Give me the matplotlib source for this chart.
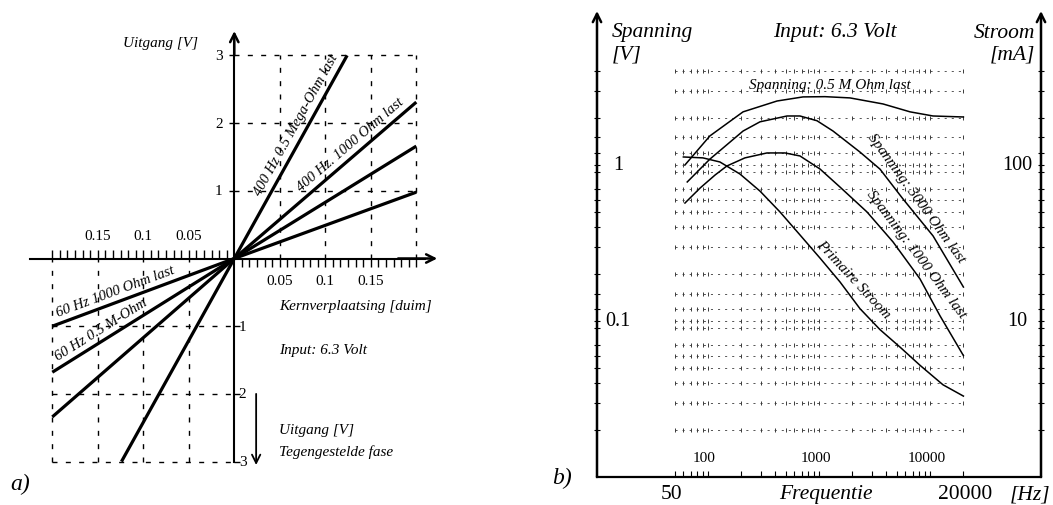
import numpy as np
import matplotlib
matplotlib.use('Agg')
import matplotlib.pyplot as plt

plt.rcParams['font.family'] = ['Liberation Serif', 'DejaVu Serif']

W, H = 1053, 506

# ---------------- panel a data ----------------
disp_tick_labels = [0.05, 0.1, 0.15]
disp_grid = [0.05, 0.1, 0.15, 0.2]
volt_grid = [1, 2, 3]
end_x_400 = [0.124, 0.2, 0.2, 0.2]
end_y_400 = [3.0, 2.31, 1.66, 0.98]
end_x_60 = [-0.2, -0.2, -0.2, -0.124]
end_y_60 = [-1.0, -1.68, -2.34, -3.0]

# ---------------- panel b data ----------------
freq_A = [62, 104, 207, 419, 718, 1132, 1901, 3776, 6610, 10650, 20000]
volt_A = [1.0, 1.535, 2.19, 2.57, 2.73, 2.74, 2.69, 2.46, 2.19, 2.06, 2.03]
freq_B = [65, 104, 207, 294, 515, 674, 960, 1337, 2338, 3545, 5715, 10650, 20000]
volt_B = [0.778, 1.09, 1.65, 1.89, 2.06, 2.06, 1.92, 1.65, 1.21, 0.94, 0.605, 0.351, 0.165]
freq_C = [62, 85, 116, 148, 215, 340, 494, 674, 1021, 1545, 2704, 4645, 8128, 12300, 20000]
volt_C = [0.57, 0.712, 0.863, 0.985, 1.11, 1.194, 1.194, 1.142, 0.942, 0.722, 0.50, 0.321,
          0.186, 0.108, 0.060]
freq_D = [60, 90, 128, 194, 294, 445, 674, 1021, 1545, 2338, 3545, 5370, 8128, 13090, 20000]
volt_D = [1.125, 1.11, 1.045, 0.875, 0.68, 0.50, 0.356, 0.253, 0.178, 0.12, 0.088, 0.068,
          0.052, 0.039, 0.033]
grid_freqs = [50, 60, 70, 80, 90, 100, 200, 300, 400, 500, 600, 700, 800, 900,
              1000, 2000, 3000, 4000, 5000, 6000, 7000, 8000, 9000, 10000, 20000]
grid_volts = [0.02, 0.03, 0.04, 0.05, 0.06, 0.07, 0.09, 0.1, 0.12, 0.15, 0.2,
              0.3, 0.4, 0.5, 0.6, 0.7, 0.9, 1, 1.2, 1.5, 2, 3, 4]

fig = plt.figure(figsize=(W / 100, H / 100), dpi=100)

def fx(px):
    return px / W

def fy(py):
    return 1 - py / H

# ================= panel a =================
ox, oy, sx, sy = 234.3, 259.5, 910.0, 67.7
L, R = 0, 525
ax1 = fig.add_axes([fx(L), 0, fx(R) - fx(L), 1])
ax1.set_xlim((L - ox) / sx, (R - ox) / sx)
ax1.set_ylim((oy - H) / sy, oy / sy)
ax1.axis('off')

dash = dict(color='black', lw=1.0, dashes=(3.6, 6.0))
for g in disp_grid:
    ax1.plot([g, g], [0, 3], **dash)
    ax1.plot([-g, -g], [-3, 0], **dash)
for v in volt_grid:
    ax1.plot([0, 0.2], [v, v], **dash)
    ax1.plot([-0.2, 0], [-v, -v], **dash)

arrow_kw = dict(arrowstyle='->', lw=1.8, mutation_scale=15, shrinkA=0, shrinkB=0)
ax1.plot([0, 0], [-3, 3.2], color='black', lw=1.5)
ax1.annotate('', xy=(0, 3.36), xytext=(0, 3.0), arrowprops=arrow_kw)
ax1.plot([-0.225, 0.21], [0, 0], color='black', lw=1.5)
ax1.annotate('', xy=(0.223, 0), xytext=(0.18, 0), arrowprops=arrow_kw)
ax1.annotate('', xy=(0.024, -3.05), xytext=(0.024, -2.0),
             arrowprops=dict(arrowstyle='->', lw=1.3, mutation_scale=15, shrinkA=0, shrinkB=0))

tick_step = 0.2 / 24
tks = np.arange(1, 25) * tick_step
ax1.vlines(tks, -0.13, 0, color='black', lw=1.0)
ax1.vlines(-tks, 0, 0.13, color='black', lw=1.0)
ax1.hlines(volt_grid, -0.006, 0, color='black', lw=1.0)
ax1.hlines([-v for v in volt_grid], 0, 0.006, color='black', lw=1.0)

for ex, ey in zip(end_x_400, end_y_400):
    ax1.plot([0, ex], [0, ey], color='black', lw=2.3, solid_capstyle='butt')
for ex, ey in zip(end_x_60, end_y_60):
    ax1.plot([0, ex], [0, ey], color='black', lw=2.3, solid_capstyle='butt')

fs = 11
for t in disp_tick_labels:
    ax1.text(t, -0.33, f'{t:g}', ha='center', va='center', fontsize=fs)
    ax1.text(-t, 0.337, f'{t:g}', ha='center', va='center', fontsize=fs)
for v in volt_grid:
    ax1.text(-0.0127, v, str(v), ha='right', va='center', fontsize=fs)
    ax1.text(0.005, -v, str(v), ha='left', va='center', fontsize=fs)

it = dict(style='italic', fontsize=fs)
ax1.text(-0.0396, 3.19, 'Uitgang [V]', ha='right', va='center', **it)
ax1.text(0.049, -0.70, 'Kernverplaatsing [duim]', ha='left', va='center', **it)
ax1.text(0.049, -1.34, 'Input: 6.3 Volt', ha='left', va='center', **it)
ax1.text(0.049, -2.52, 'Uitgang [V]', ha='left', va='center', **it)
ax1.text(0.049, -2.84, 'Tegengestelde fase', ha='left', va='center', **it)
ax1.text(-0.246, -3.33, 'a)', ha='left', va='center', style='italic', fontsize=17)


def line_label(ex, ey, t, text, off_px=11.0):
    dx, dy = ex * sx, ey * sy
    n = np.hypot(dx, dy)
    ux, uy = dx / n, dy / n
    if ux < 0:
        ux, uy = -ux, -uy
    ang = np.degrees(np.arctan2(uy, ux))
    nx, ny = -uy, ux
    ax1.annotate(text, xy=(t * ex, t * ey), xytext=(nx * off_px * 0.72, ny * off_px * 0.72),
                 textcoords='offset points', rotation=ang, rotation_mode='anchor',
                 ha='center', va='center', style='italic', fontsize=10.5)


line_label(end_x_400[0], end_y_400[0], 0.635, '400 Hz 0.5 Mega-Ohm last')
line_label(end_x_400[1], end_y_400[1], 0.677, '400 Hz. 1000 Ohm last')
line_label(end_x_60[0], end_y_60[0], 0.634, '60 Hz 1000 Ohm last')
line_label(end_x_60[1], end_y_60[1], 0.70, '60 Hz 0.5 M-Ohm')

# ================= panel b =================
bl, br, bb, bt = 597, 1041, 478, 12
ax2 = fig.add_axes([fx(bl), fy(bb), fx(br) - fx(bl), fy(bt) - fy(bb)])
ax2.set_xscale('log')
ax2.set_yscale('log')
ax2.set_xlim(10, 1e5)
ax2.set_ylim(0.01, 9.7)
for s in ['top', 'left', 'right']:
    ax2.spines[s].set_visible(False)
ax2.spines['bottom'].set_linewidth(1.6)
ax2.patch.set_alpha(0)

ax2.set_xticks(grid_freqs)
ax2.xaxis.set_minor_locator(matplotlib.ticker.NullLocator())
ax2.set_xticklabels([])
ax2.tick_params(axis='x', direction='in', length=4, width=0.8)
ax2.set_yticks(grid_volts)
ax2.yaxis.set_minor_locator(matplotlib.ticker.NullLocator())
ax2.set_yticklabels([])
ax2.tick_params(axis='y', which='major', direction='inout', length=5, width=0.8,
                left=True, right=True)

for xa in [10, 1e5]:
    ax2.annotate('', xy=(xa, 1.0), xytext=(xa, 0.0), xycoords=('data', 'axes fraction'),
                 textcoords=('data', 'axes fraction'), arrowprops=arrow_kw)

# grid paper
for v in grid_volts:
    ax2.plot([50, 20000], [v, v], color='#3a3a3a', lw=0.6, dashes=(2.5, 6.0))
for f in grid_freqs:
    ax2.plot([f] * len(grid_volts), grid_volts, ls='none', marker='|', ms=3.2, mew=0.7,
             color='#3a3a3a')

for fq, vv in [(freq_A, volt_A), (freq_B, volt_B), (freq_C, volt_C), (freq_D, volt_D)]:
    ax2.plot(fq, vv, color='black', lw=1.1)

cl = dict(ha='center', va='center', style='italic', fontsize=11, rotation_mode='anchor',
          textcoords='offset points')
ax2.text(1256, 3.3, 'Spanning: 0.5 M Ohm last', ha='center', va='center',
         style='italic', fontsize=11)
ax2.annotate('Spanning: 3000 Ohm last', xy=(6080, 0.555), xytext=(7.6, 5.5), rotation=-54, **cl)
ax2.annotate('Spanning: 1000 Ohm last', xy=(6210, 0.243), xytext=(7.0, 5.1), rotation=-53, **cl)
ax2.annotate('Primaire Stroom', xy=(1714, 0.165), xytext=(6.3, 5.9), rotation=-47, **cl)

big = 14.5
ax2.text(15.5, 1, '1', ha='center', va='center', fontsize=big)
ax2.text(15.5, 0.1, '0.1', ha='center', va='center', fontsize=big)
ax2.text(60800, 1, '100', ha='center', va='center', fontsize=big)
ax2.text(60800, 0.1, '10', ha='center', va='center', fontsize=big)
for f in [100, 1000, 10000]:
    ax2.text(f * 0.93, 0.0134, str(f), ha='center', va='center', fontsize=11)

hdr = 15.5
fig.text(fx(671), fy(495), '50', ha='center', va='center', fontsize=15.5)
fig.text(fx(965), fy(495), '20000', ha='center', va='center', fontsize=15.5)
fig.text(fx(826), fy(495), 'Frequentie', ha='center', va='center', fontsize=15.5, style='italic')
fig.text(fx(1030), fy(495), '[Hz]', ha='center', va='center', fontsize=15.5, style='italic')
fig.text(fx(612), fy(33), 'Spanning', ha='left', va='center', fontsize=hdr, style='italic')
fig.text(fx(612), fy(55), '[V]', ha='left', va='center', fontsize=hdr, style='italic')
fig.text(fx(835), fy(33), 'Input: 6.3 Volt', ha='center', va='center', fontsize=hdr, style='italic')
fig.text(fx(1035), fy(33), 'Stroom', ha='right', va='center', fontsize=hdr, style='italic')
fig.text(fx(1035), fy(55), '[mA]', ha='right', va='center', fontsize=hdr, style='italic')
fig.text(fx(552), fy(478), 'b)', ha='left', va='center', fontsize=17, style='italic')

fig.savefig('out.png', dpi=100)
